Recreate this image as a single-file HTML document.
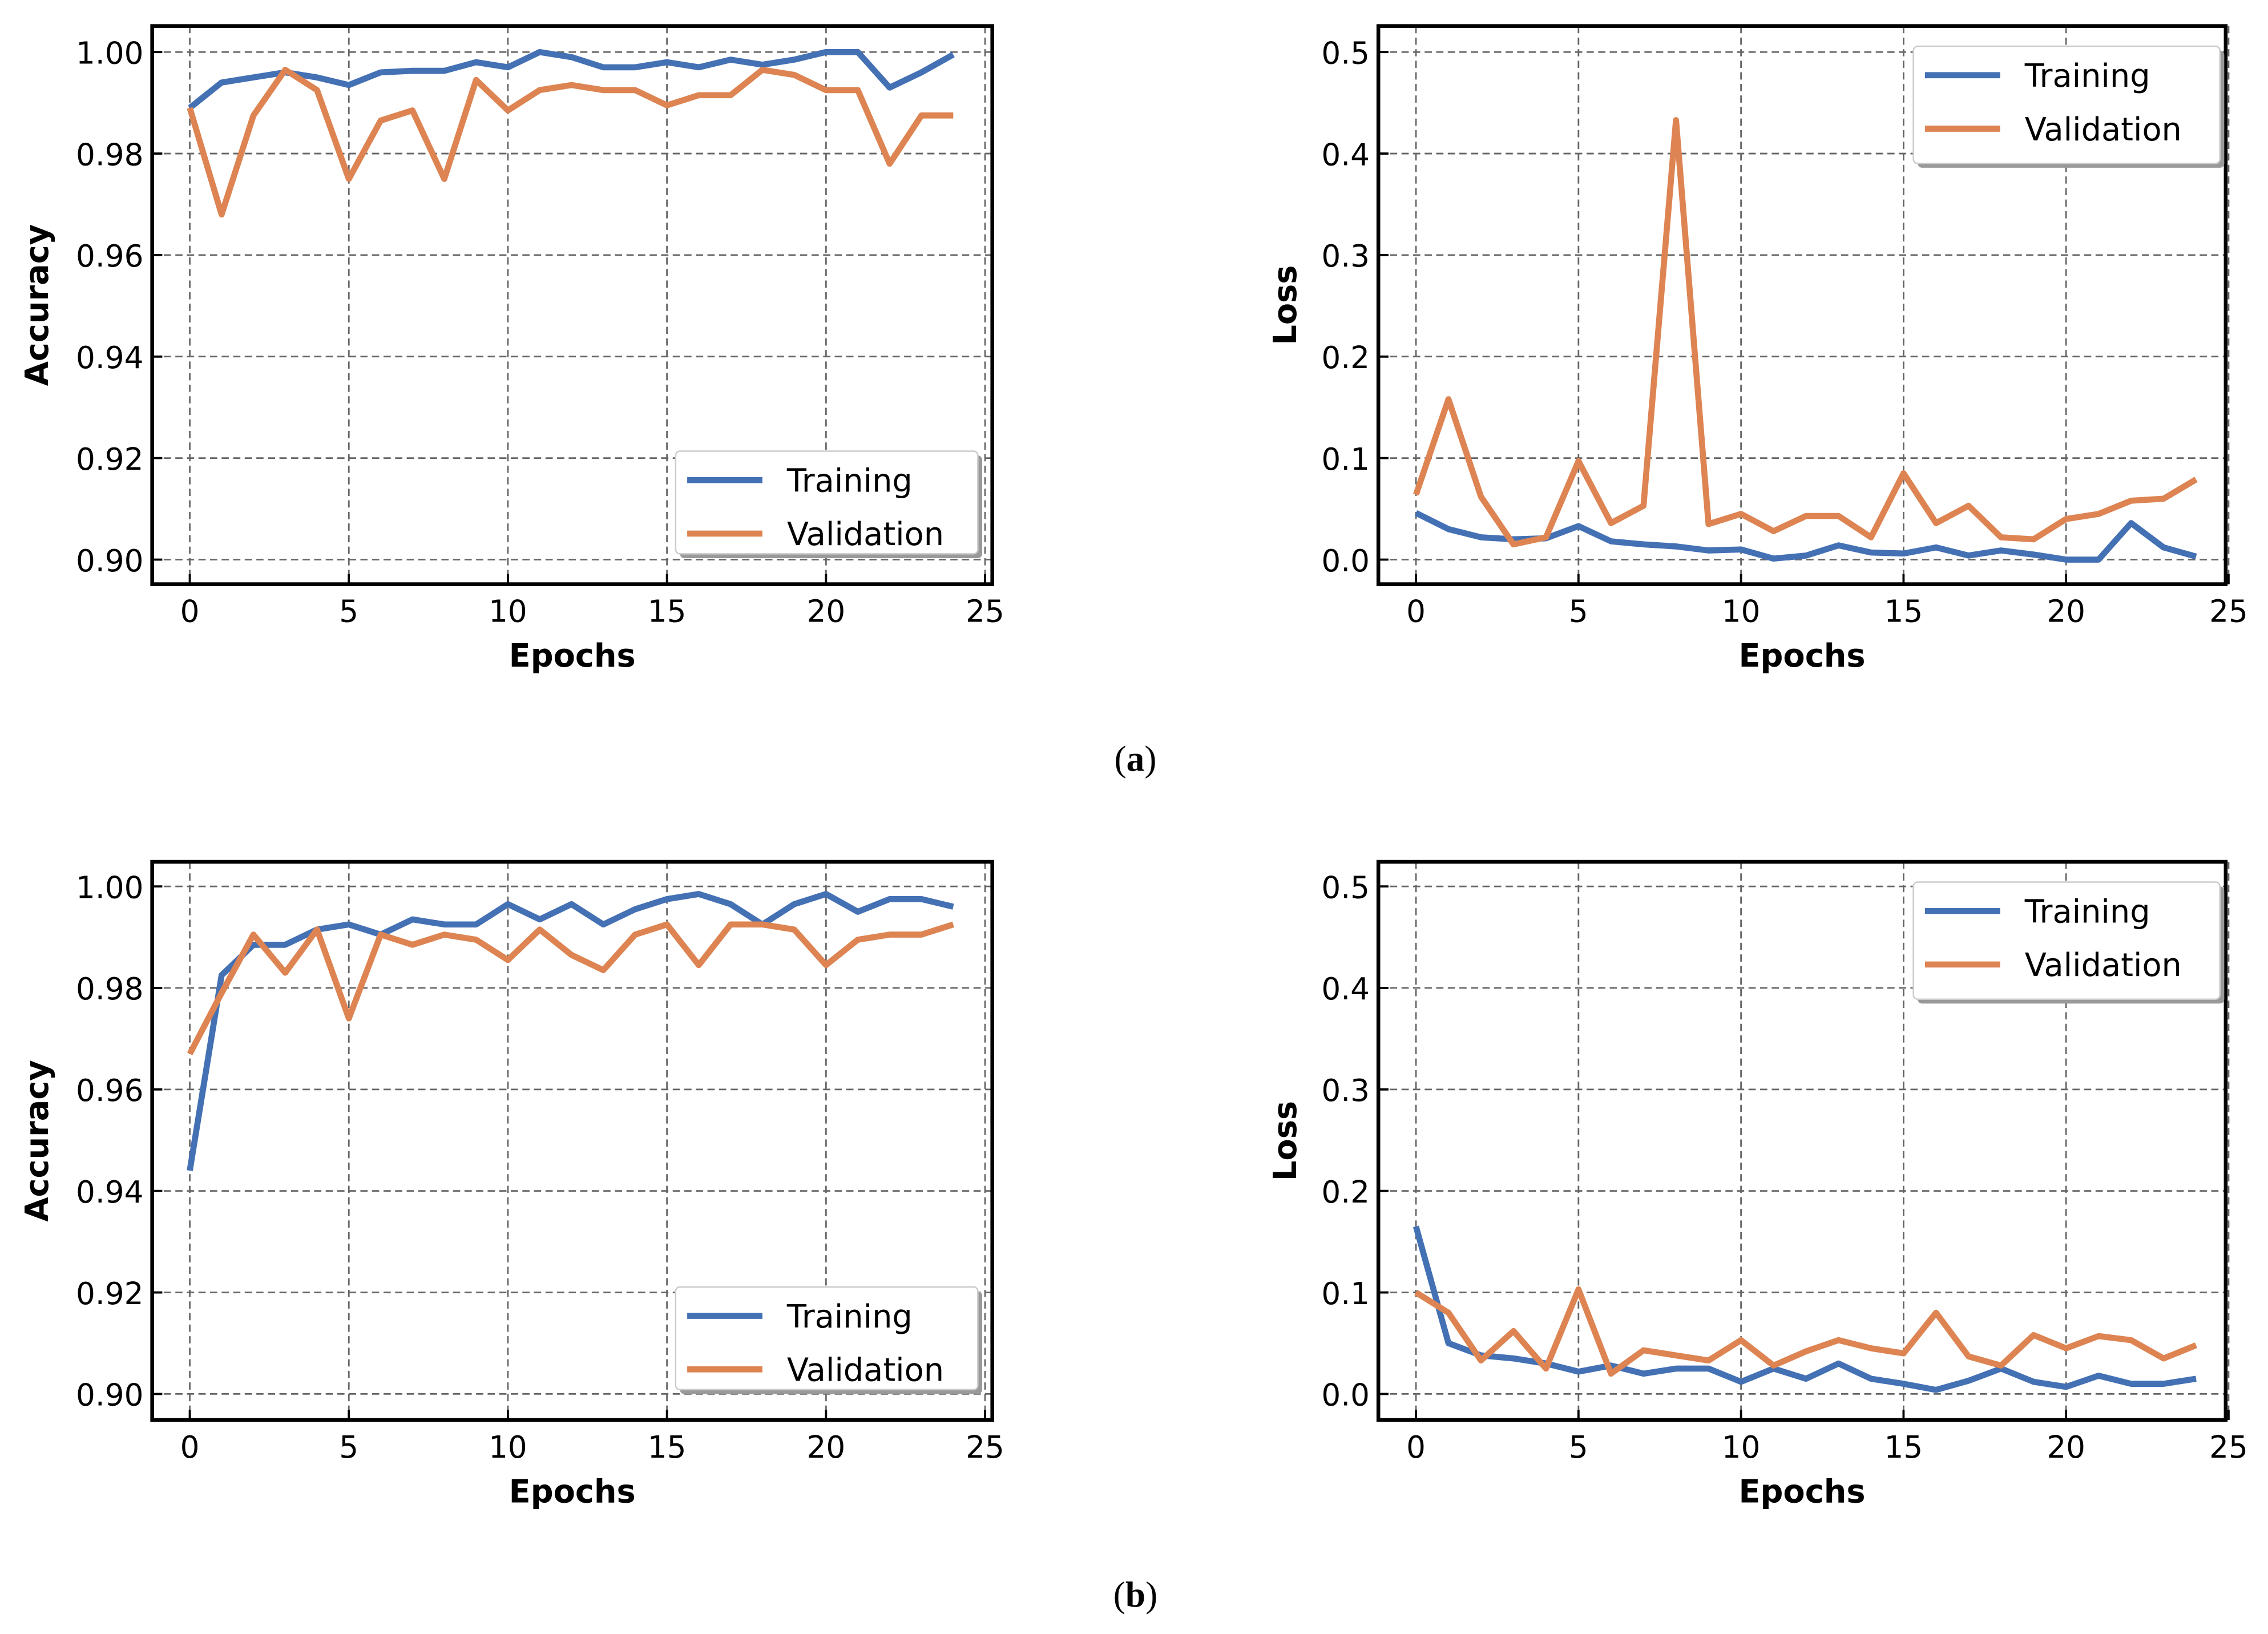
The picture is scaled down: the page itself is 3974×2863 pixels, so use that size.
<!DOCTYPE html>
<html><head><meta charset="utf-8"><style>
html,body{margin:0;padding:0;background:#fff}
svg{display:block}
text{font-family:"DejaVu Sans","Liberation Sans",sans-serif}
text.cap{font-family:"Liberation Serif",serif}
</style></head><body>
<svg id="fig" width="3974" height="2863" viewBox="0 0 1568 1130" xmlns="http://www.w3.org/2000/svg">
<text class="cap" x="785" y="533" text-anchor="middle" font-size="25">(<tspan font-weight="bold">a</tspan>)</text>
<text class="cap" x="785" y="1111" text-anchor="middle" font-size="25">(<tspan font-weight="bold">b</tspan>)</text>
</svg>
<script>
const epochs = Array.from({length:25},(_,i)=>i);
const accTrainA = [0.989,0.994,0.995,0.996,0.995,0.9935,0.996,0.9963,0.9963,0.998,0.997,1.0,0.999,0.997,0.997,0.998,0.997,0.9985,0.9975,0.9985,1.0,1.0,0.993,0.996,0.9995];
const accValA = [0.989,0.968,0.9875,0.9965,0.9925,0.975,0.9865,0.9885,0.975,0.9945,0.9885,0.9925,0.9935,0.9925,0.9925,0.9895,0.9915,0.9915,0.9965,0.9955,0.9925,0.9925,0.978,0.9875,0.9875];
const lossTrainA = [0.046,0.030,0.022,0.020,0.021,0.033,0.018,0.015,0.013,0.009,0.010,0.001,0.004,0.014,0.007,0.006,0.012,0.004,0.009,0.005,0.0,0.0,0.036,0.012,0.003];
const lossValA = [0.064,0.158,0.062,0.015,0.022,0.097,0.036,0.053,0.433,0.035,0.045,0.028,0.043,0.043,0.022,0.085,0.036,0.053,0.022,0.020,0.040,0.045,0.058,0.060,0.079];
const accTrainB = [0.944,0.9825,0.9885,0.9885,0.9915,0.9925,0.9905,0.9935,0.9925,0.9925,0.9965,0.9935,0.9965,0.9925,0.9955,0.9975,0.9985,0.9965,0.9925,0.9965,0.9985,0.995,0.9975,0.9975,0.996];
const accValB = [0.967,0.979,0.9905,0.983,0.9915,0.974,0.9905,0.9885,0.9905,0.9895,0.9855,0.9915,0.9865,0.9835,0.9905,0.9925,0.9845,0.9925,0.9925,0.9915,0.9845,0.9895,0.9905,0.9905,0.9925];
const lossTrainB = [0.165,0.050,0.038,0.035,0.030,0.022,0.028,0.020,0.025,0.025,0.012,0.025,0.015,0.030,0.015,0.010,0.004,0.013,0.025,0.012,0.007,0.018,0.010,0.010,0.015];
const lossValB = [0.100,0.080,0.033,0.062,0.025,0.103,0.020,0.043,0.038,0.033,0.053,0.028,0.042,0.053,0.045,0.040,0.080,0.037,0.028,0.058,0.045,0.057,0.053,0.035,0.048];
const xTicks = [0,5,10,15,20,25];
const accTicks = [0.90,0.92,0.94,0.96,0.98,1.00];
const lossTicks = [0.0,0.1,0.2,0.3,0.4,0.5];

const NS='http://www.w3.org/2000/svg';
const svg=document.getElementById('fig');
function mk(tag,attrs,parent){const e=document.createElementNS(NS,tag);for(const k in attrs)e.setAttribute(k,attrs[k]);(parent||svg).appendChild(e);return e;}

function panel(cfg){
  const g=mk('g',{});
  
  
  const {L,R,T,B,x0px,x25px,yLoPx,yHiPx,yLo,yHi}=cfg;
  const sx=v=>x0px+(x25px-x0px)*v/25;
  const sy=v=>yLoPx+(yHiPx-yLoPx)*(v-yLo)/(yHi-yLo);
  xTicks.forEach(t=>{const l=mk('line',{x1:sx(t),x2:sx(t),y1:T,y2:B,stroke:'#666','stroke-width':1.1,'stroke-dasharray':'5,3'},g);
    });
  cfg.yTicks.forEach(t=>{const l=mk('line',{x1:L,x2:R,y1:sy(t),y2:sy(t),stroke:'#666','stroke-width':1.1,'stroke-dasharray':'5,3'},g);
    });
  xTicks.forEach(t=>{mk('line',{x1:sx(t),x2:sx(t),y1:B,y2:B-7,stroke:'#000','stroke-width':1.5},g);
    const tx=mk('text',{x:sx(t),y:B+26,'text-anchor':'middle','font-size':21},g);tx.textContent=t;
    });
  cfg.yTicks.forEach(t=>{mk('line',{x1:L,x2:L+7,y1:sy(t),y2:sy(t),stroke:'#000','stroke-width':1.5},g);
    const tx=mk('text',{x:L-6,y:sy(t)+8,'text-anchor':'end','font-size':21},g);tx.textContent=t.toFixed(cfg.dec);
    });
  [[cfg.train,'#4470b4','training-line'],[cfg.val,'#dd8452','validation-line']].forEach(([d,c,n])=>{
    const pts=d.map((v,i)=>sx(epochs[i]).toFixed(2)+','+sy(v).toFixed(2)).join(' ');
    const p=mk('polyline',{points:pts,fill:'none',stroke:c,'stroke-width':4.2,'stroke-linejoin':'round'},g);
    });
  const fr=mk('rect',{x:L,y:T,width:R-L,height:B-T,fill:'none',stroke:'#000','stroke-width':2.6},g);
  
  const lg=mk('g',{},g);
  
  const [lx,ly,lw,lh]=cfg.leg;
  mk('rect',{x:lx+3,y:ly+3,width:lw,height:lh,rx:3,fill:'#999'},lg);
  mk('rect',{x:lx,y:ly,width:lw,height:lh,rx:3,fill:'#fff',stroke:'#ccc','stroke-width':1},lg);
  [['Training','#4470b4'],['Validation','#dd8452']].forEach(([t,c],i)=>{
    const yy=ly+20+i*37;
    const ln=mk('line',{x1:lx+8,x2:lx+60,y1:yy,y2:yy,stroke:c,'stroke-width':4.2},lg);
    
    const tx=mk('text',{x:lx+77,y:yy+8,'font-size':22},lg);tx.textContent=t;
    });
  const xl=mk('text',{x:(L+R)/2,y:B+57,'text-anchor':'middle','font-size':22,'font-weight':'bold'},g);xl.textContent='Epochs';
  
  const yl=mk('text',{x:0,y:0,'text-anchor':'middle','font-size':22,'font-weight':'bold',transform:`translate(${cfg.ylx},${(T+B)/2}) rotate(-90)`},g);yl.textContent=cfg.ylabel;
  
}
const rows=[{T:18,B:404,hi:36,lo:387,a:[accTrainA,accValA],l:[lossTrainA,lossValA],s:'a'},
            {T:596,B:982,hi:613,lo:964,a:[accTrainB,accValB],l:[lossTrainB,lossValB],s:'b'}];
rows.forEach(r=>{
  panel({name:'accuracy-chart-'+r.s,L:105,R:686,T:r.T,B:r.B,x0px:131,x25px:681,yLoPx:r.lo,yHiPx:r.hi,yLo:0.90,yHi:1.00,
    yTicks:accTicks,dec:2,train:r.a[0],val:r.a[1],leg:[467,r.T+294,209,71],ylx:33,ylabel:'Accuracy'});
  panel({name:'loss-chart-'+r.s,L:953,R:1539,T:r.T,B:r.B,x0px:979,x25px:1541,yLoPx:r.lo,yHiPx:r.hi,yLo:0,yHi:0.5,
    yTicks:lossTicks,dec:1,train:r.l[0],val:r.l[1],leg:[1323,r.T+14,212,81],ylx:896,ylabel:'Loss'});
});
</script>
</body></html>
